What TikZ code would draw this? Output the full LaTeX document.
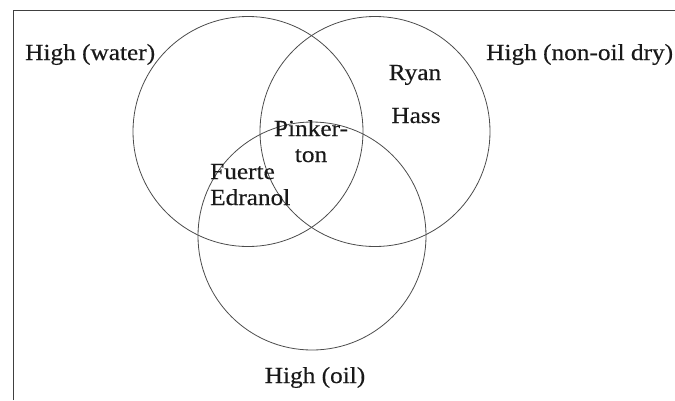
\documentclass[tikz,border=0pt]{standalone}
\usepackage{fontspec}
\setmainfont{Liberation Serif}[FakeStretch=1.1, FakeBold=0.4]
\usepackage{xcolor}
\usetikzlibrary{positioning}

\begin{document}
\begin{tikzpicture}[
  x=1pt, y=-1pt,
  set/.style={circle, draw=black!70, line width=0.8pt, minimum size=230pt, inner sep=0pt},
  label/.style={inner sep=0pt, font=\fontsize{23}{26}\selectfont, text=black!90},
  frame/.style={draw=black!75, line width=1pt}
]
\useasboundingbox (0,0) rectangle (675,400);

% Frame
\coordinate (cornerBL) at (13,400);
\coordinate (cornerTL) at (13,10);
\coordinate (cornerTR) at (675,10);
\draw[frame] (cornerBL) -- (cornerTL) -- (cornerTR);

% Sets
\node[set] (water) at (248,131.5) {};
\node[set] (dry) at (375,131.5) {};
\node[set, minimum size=228pt] (oil) at (312,236) {};

% Set names
\node[label, anchor=base west] (waterName) at (25,60) {High (water)};
\node[label, anchor=base west] (dryName) at (486,60) {High (non-oil dry)};
\node[label, anchor=base] (oilName) at (315,383) {High (oil)};

% Members
\node[label, anchor=base] (ryan) at (415,80) {Ryan};
\node[label, anchor=base] (hass) at (416,123) {Hass};
\node[label, anchor=base, align=center] (pinkerton) at (311,162) {Pinker-\\ton};
\node[label, anchor=base west, align=left] (fuerte) at (210,205) {Fuerte\\Edranol};

\end{tikzpicture}
\end{document}
